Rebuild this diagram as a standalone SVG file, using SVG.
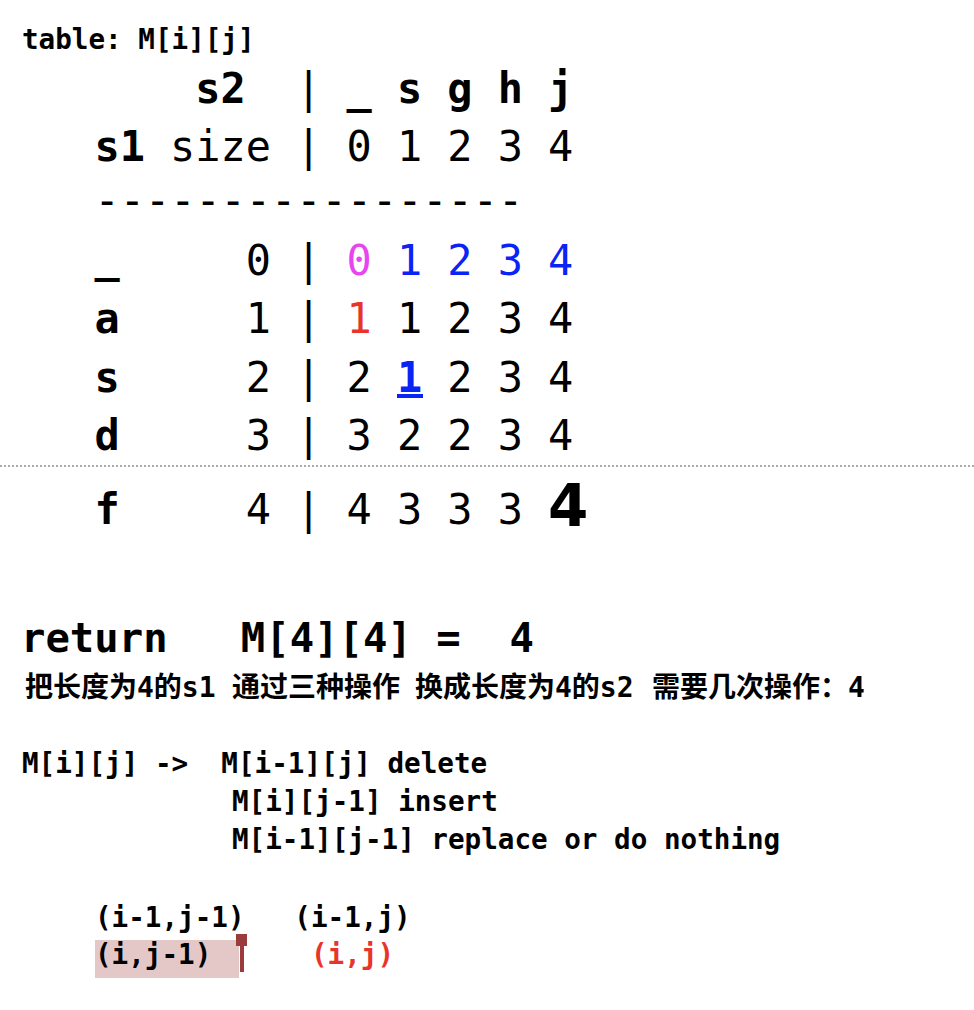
<svg xmlns="http://www.w3.org/2000/svg" width="974" height="1010" viewBox="0 0 974 1010">
<style>
text{font-family:"DejaVu Sans Mono","Liberation Mono",monospace;fill:#000;white-space:pre}
.t{font-size:41.9px}
.c{text-anchor:middle}
.b{font-weight:bold}
.m{font-size:27.6px;font-weight:bold}
.zh{font-family:"DejaVu Sans Mono","Noto Sans CJK SC",monospace;font-size:28px;font-weight:bold}
.pink{fill:#e845f0}
.blue{fill:#0a24f5}
.red{fill:#e8352b}
</style>
<rect width="974" height="1010" fill="#fff"/>
<g id="title"><text class="m" x="22" y="49">table: M[i][j]</text></g>
<g id="table">
<g id="hdr-s2">
<text class="t b" x="195.3" y="103">s2</text>
<text class="t c" x="308.7" y="103">|</text>
<text class="t c b" x="359.1" y="103">_</text>
<text class="t c b" x="409.5" y="103">s</text>
<text class="t c b" x="459.9" y="103">g</text>
<text class="t c b" x="510.3" y="103">h</text>
<text class="t c b" x="560.7" y="103">j</text>
</g>
<g id="hdr-s1">
<text class="t b" x="94.5" y="161">s1</text>
<text class="t" x="170.1" y="161">size</text>
<text class="t c" x="308.7" y="161">|</text>
<text class="t c" x="359.1" y="161">0</text>
<text class="t c" x="409.5" y="161">1</text>
<text class="t c" x="459.9" y="161">2</text>
<text class="t c" x="510.3" y="161">3</text>
<text class="t c" x="560.7" y="161">4</text>
</g>
<g id="rule"><text class="t" x="94.5" y="215">-----------------</text></g>
<g id="row-0">
<text class="t c b" x="107.1" y="272">_</text>
<text class="t c" x="258.3" y="275">0</text>
<text class="t c" x="308.7" y="275">|</text>
<text class="t c pink" x="359.1" y="275">0</text>
<text class="t c blue" x="409.5" y="275">1</text>
<text class="t c blue" x="459.9" y="275">2</text>
<text class="t c blue" x="510.3" y="275">3</text>
<text class="t c blue" x="560.7" y="275">4</text>
</g>
<g id="row-a">
<text class="t c b" x="107.1" y="333">a</text>
<text class="t c" x="258.3" y="333">1</text>
<text class="t c" x="308.7" y="333">|</text>
<text class="t c red" x="359.1" y="333">1</text>
<text class="t c" x="409.5" y="333">1</text>
<text class="t c" x="459.9" y="333">2</text>
<text class="t c" x="510.3" y="333">3</text>
<text class="t c" x="560.7" y="333">4</text>
</g>
<g id="row-s">
<text class="t c b" x="107.1" y="392">s</text>
<text class="t c" x="258.3" y="392">2</text>
<text class="t c" x="308.7" y="392">|</text>
<text class="t c" x="359.1" y="392">2</text>
<text class="t c b blue" x="409.5" y="392">1</text>
<rect x="397" y="394" width="26" height="4" fill="#0a24f5"/>
<text class="t c" x="459.9" y="392">2</text>
<text class="t c" x="510.3" y="392">3</text>
<text class="t c" x="560.7" y="392">4</text>
</g>
<g id="row-d">
<text class="t c b" x="107.1" y="450">d</text>
<text class="t c" x="258.3" y="450">3</text>
<text class="t c" x="308.7" y="450">|</text>
<text class="t c" x="359.1" y="450">3</text>
<text class="t c" x="409.5" y="450">2</text>
<text class="t c" x="459.9" y="450">2</text>
<text class="t c" x="510.3" y="450">3</text>
<text class="t c" x="560.7" y="450">4</text>
</g>
<line id="page-break" x1="0" y1="466" x2="974" y2="466" stroke="#aaa" stroke-width="2" stroke-dasharray="2 2"/>
<g id="row-f">
<text class="t c b" x="107.1" y="524">f</text>
<text class="t c" x="258.3" y="524">4</text>
<text class="t c" x="308.7" y="524">|</text>
<text class="t c" x="359.1" y="524">4</text>
<text class="t c" x="409.5" y="524">3</text>
<text class="t c" x="459.9" y="524">3</text>
<text class="t c" x="510.3" y="524">3</text>
<text x="548" y="526" style="font-family:'DejaVu Sans',sans-serif;font-size:58px;font-weight:bold">4</text>
</g>
</g>
<g id="result">
<text class="b" x="21" y="652" style="font-size:40.6px">return   M[4][4] =  4</text>
<text class="zh" y="697"><tspan x="25">把长度为4的s1</tspan><tspan x="232">通过三种操作</tspan><tspan x="415">换成长度为4的s2</tspan><tspan x="652">需要几次操作：4</tspan></text>
</g>
<g id="recurrence">
<text class="m" x="22" y="773">M[i][j] ->  M[i-1][j] delete</text>
<text class="m" x="232" y="811">M[i][j-1] insert</text>
<text class="m" x="232" y="849">M[i-1][j-1] replace or do nothing</text>
</g>
<g id="neighbours">
<rect x="95" y="940" width="144" height="38" fill="#e4c8c8"/>
<text class="m" x="95" y="927">(i-1,j-1)   (i-1,j)</text>
<text class="m" x="95" y="964">(i,j-1)</text>
<text class="m red" x="311" y="964">(i,j)</text>
<g id="cursor" fill="#9b3b3b">
<rect x="236" y="934" width="11" height="12"/>
<rect x="240" y="934" width="4" height="38"/>
</g>
</g>
</svg>
